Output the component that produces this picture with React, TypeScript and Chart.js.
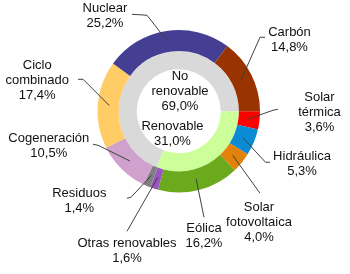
import React, { useEffect, useRef } from "react";
import { Chart, registerables } from "chart.js";

Chart.register(...registerables);

// Outer ring (clockwise from 3 o'clock)
const categories = [
  "Solar térmica",
  "Hidráulica",
  "Solar fotovoltaica",
  "Eólica",
  "Otras renovables",
  "Residuos",
  "Cogeneración",
  "Ciclo combinado",
  "Nuclear",
  "Carbón",
];
const shares = [3.6, 5.3, 4.0, 16.2, 1.6, 1.4, 10.5, 17.4, 25.2, 14.8];
const labelLines = [
  ["Solar", "térmica", "3,6%"],
  ["Hidráulica", "5,3%"],
  ["Solar", "fotovoltaica", "4,0%"],
  ["Eólica", "16,2%"],
  ["Otras renovables", "1,6%"],
  ["Residuos", "1,4%"],
  ["Cogeneración", "10,5%"],
  ["Ciclo", "combinado", "17,4%"],
  ["Nuclear", "25,2%"],
  ["Carbón", "14,8%"],
];

// Inner ring
const groups = ["Renovable", "No renovable"];
const groupShares = [31.0, 69.0];
const groupLines = [
  ["Renovable", "31,0%"],
  ["No", "renovable", "69,0%"],
];

// Styles / layout (offsets relative to the chart centre)
const colors = [
  "#FF0000",
  "#0B8BD3",
  "#E2820A",
  "#6BAA1C",
  "#9B55C0",
  "#808080",
  "#CEA2CC",
  "#FFCC66",
  "#453F94",
  "#993300",
];
const groupColors = ["#CCFF99", "#D9D9D9"];
const labelText: [number, number][] = [
  [140.75, -10.5],
  [123.25, 49],
  [80.25, 100],
  [25.25, 121],
  [-51.75, 135.5],
  [-99.45, 85.5],
  [-129.95, 30.7],
  [-141.55, -42.7],
  [-73.75, -99],
  [110.75, -75],
];
const leaderPts: [number, number][][] = [
  [[99.25, -2], [94.25, -1]],
  [[91.25, 51], [86.75, 51]],
  [[81.25, 82]],
  [[25.25, 106]],
  [[-51.75, 120]],
  [[-51.75, 87], [-47.75, 86]],
  [[-85.75, 33], [-80.75, 34]],
  [[-100.75, -32], [-95.75, -32]],
  [[-46.75, -97], [-31.75, -96]],
  [[86.25, -74], [81.25, -74]],
];
const groupText: [number, number][] = [
  [-6.25, 19],
  [1.25, -31],
];
const LINE_H = 15;
const FONT = "13px 'Liberation Sans', Arial, sans-serif";

const labelPlugin = {
  id: "donutLabels",
  afterDatasetsDraw(chart: any) {
    const ctx = chart.ctx;
    const meta = chart.getDatasetMeta(0);
    ctx.save();
    ctx.font = FONT;
    ctx.textAlign = "center";
    ctx.textBaseline = "alphabetic";
    meta.data.forEach((arc: any, i: number) => {
      const { x, y, startAngle, endAngle, innerRadius, outerRadius } = arc.getProps(
        ["x", "y", "startAngle", "endAngle", "innerRadius", "outerRadius"],
        true
      );
      const mid = (startAngle + endAngle) / 2;
      const r = (innerRadius + outerRadius) / 2 - 1;
      const ex = x + Math.cos(mid) * r;
      const ey = y + Math.sin(mid) * r;
      ctx.strokeStyle = "#404040";
      ctx.lineWidth = 1;
      ctx.beginPath();
      leaderPts[i].forEach((p, k) => {
        if (k === 0) ctx.moveTo(x + p[0], y + p[1]);
        else ctx.lineTo(x + p[0], y + p[1]);
      });
      ctx.lineTo(ex, ey);
      ctx.stroke();
      ctx.fillStyle = "#111111";
      labelLines[i].forEach((t, k) => {
        ctx.fillText(t, x + labelText[i][0], y + labelText[i][1] + k * LINE_H);
      });
    });
    const meta2 = chart.getDatasetMeta(1);
    meta2.data.forEach((arc: any, i: number) => {
      const { x, y } = arc.getProps(["x", "y"], true);
      ctx.fillStyle = "#111111";
      groupLines[i].forEach((t, k) => {
        ctx.fillText(t, x + groupText[i][0], y + groupText[i][1] + k * LINE_H);
      });
    });
    ctx.restore();
  },
};

export default function App() {
  const ref = useRef<HTMLCanvasElement | null>(null);
  useEffect(() => {
    if (!ref.current) return;
    const chart = new Chart(ref.current, {
      type: "doughnut",
      data: {
        labels: categories,
        datasets: [
          {
            data: shares,
            backgroundColor: colors,
            borderWidth: 0,
            weight: 21,
          },
          {
            data: groupShares,
            backgroundColor: groupColors,
            borderWidth: 0,
            weight: 18,
          } as any,
        ],
      },
      options: {
        responsive: false,
        animation: false,
        rotation: 90,
        cutout: "51.7%",
        layout: { padding: { left: 97.5, top: 30, right: 90, bottom: 81.5 } },
        plugins: {
          legend: { display: false },
          tooltip: { enabled: false },
        },
      },
      plugins: [labelPlugin],
    });
    return () => chart.destroy();
  }, []);
  return (
    <div style={{ position: "absolute", left: 0, top: 0, width: 350, height: 274, background: "#fff" }}>
      <canvas ref={ref} width={350} height={274} />
    </div>
  );
}
